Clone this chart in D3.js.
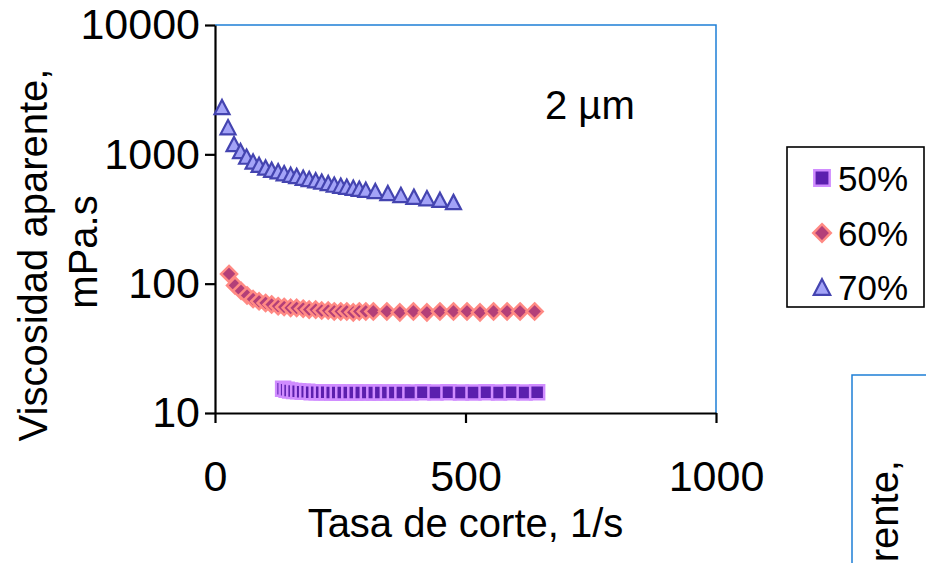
<!DOCTYPE html>
<html>
<head>
<meta charset="utf-8">
<script src="https://cdn.jsdelivr.net/npm/d3@7"></script>
<style>
  html, body { margin: 0; padding: 0; background: #fff; }
  svg { display: block; }
  text { font-family: "Liberation Sans", Arial, sans-serif; fill: #000; }
</style>
</head>
<body>
<svg id="chart" width="926" height="563"></svg>
<script>
// Apparent viscosity vs. shear rate, 2 µm particles, three solids loadings
const seriesNames = ["50%", "60%", "70%"];

const rate50 = [136, 143, 150, 158, 166, 175, 184, 193, 203, 213, 223, 234, 245, 256, 268, 280, 292, 305, 318, 331, 345, 359, 374, 390, 415, 440, 466, 491, 516, 542, 567, 592, 618, 643];
const visc50 = [15.4, 15.1, 14.9, 14.8, 14.7, 14.6, 14.6, 14.5, 14.5, 14.5, 14.5, 14.4, 14.4, 14.4, 14.4, 14.4, 14.4, 14.4, 14.4, 14.4, 14.4, 14.4, 14.4, 14.4, 14.5, 14.4, 14.5, 14.4, 14.4, 14.5, 14.4, 14.5, 14.4, 14.5];

const rate60 = [28, 40, 52, 64, 76, 88, 101, 113, 126, 138, 151, 163, 176, 188, 201, 213, 226, 238, 251, 263, 276, 288, 301, 316, 343, 369, 396, 423, 449, 476, 503, 529, 556, 583, 609, 638];
const visc60 = [119, 97, 88, 81, 76, 73, 71, 69, 67, 66, 65, 65, 64, 63, 63, 62, 62, 61, 61, 61, 60, 61, 61, 61, 61, 60, 61, 60, 61, 61, 61, 60, 61, 61, 61, 61];

const rate70 = [14, 26, 38, 51, 63, 76, 88, 101, 113, 126, 138, 151, 163, 176, 188, 201, 213, 226, 238, 251, 263, 276, 288, 301, 320, 345, 371, 397, 423, 449, 476];
const visc70 = [2320, 1620, 1200, 1060, 960, 880, 830, 790, 760, 740, 715, 695, 680, 660, 645, 630, 615, 600, 583, 572, 562, 552, 542, 532, 520, 502, 485, 470, 458, 445, 428];

const xTicks = [0, 500, 1000];
const yTicks = [10, 100, 1000, 10000];

const svg = d3.select("#chart");
const plot = { left: 215, right: 716, top: 25, bottom: 413 };

const x = d3.scaleLinear().domain([0, 1000]).range([plot.left, plot.right]);
const y = d3.scaleLog().domain([10, 10000]).range([plot.bottom, plot.top]);

// Marker shapes: square, diamond (rotated square) and triangle centred on its box
const squareType = { draw(ctx, size) { const h = Math.sqrt(size) / 2; ctx.moveTo(-h, -h); ctx.lineTo(h, -h); ctx.lineTo(h, h); ctx.lineTo(-h, h); ctx.closePath(); } };
const diamondType = { draw(ctx, size) { const r = Math.sqrt(size) / 2; ctx.moveTo(0, -r); ctx.lineTo(r, 0); ctx.lineTo(0, r); ctx.lineTo(-r, 0); ctx.closePath(); } };
const triangleType = { draw(ctx, size) { const w = Math.sqrt(size) / 2; const hh = w * 0.95; ctx.moveTo(0, -hh); ctx.lineTo(w, hh); ctx.lineTo(-w, hh); ctx.closePath(); } };

const styles = [
  { type: squareType, size: 196, fill: "#5b1fae", stroke: "#d08cff", sw: 2.5 },
  { type: diamondType, size: 256, fill: "#b33f78", stroke: "#ff8a84", sw: 2.5 },
  { type: triangleType, size: 225, fill: "#a3a3f7", stroke: "#4444b0", sw: 2.2 }
];

const series = [
  { name: seriesNames[0], rate: rate50, visc: visc50 },
  { name: seriesNames[1], rate: rate60, visc: visc60 },
  { name: seriesNames[2], rate: rate70, visc: visc70 }
];

// Plot area frame (top and right edges)
svg.append("path")
  .attr("d", `M${plot.left},${plot.top}H${plot.right}V${plot.bottom}`)
  .attr("fill", "none").attr("stroke", "#1e7fd6").attr("stroke-width", 1.5);

// Axes
const xAxis = svg.append("g").attr("transform", `translate(0,${plot.bottom})`)
  .call(d3.axisBottom(x).tickValues(xTicks).tickSize(10).tickSizeOuter(0).tickPadding(37).tickFormat(d3.format("d")));
const yAxis = svg.append("g").attr("transform", `translate(${plot.left},0)`)
  .call(d3.axisLeft(y).tickValues(yTicks).tickSize(10).tickSizeOuter(0).tickPadding(5).tickFormat(d3.format("d")));

[xAxis, yAxis].forEach(g => {
  g.select(".domain").attr("stroke", "#000").attr("stroke-width", 2.2);
  g.selectAll(".tick line").attr("stroke", "#000").attr("stroke-width", 2.2);
  g.selectAll(".tick text").attr("font-size", 43).attr("font-family", "'Liberation Sans', Arial, sans-serif").attr("fill", "#000");
});
xAxis.selectAll(".tick text").attr("dy", "0.71em");

// Data markers
series.forEach((s, i) => {
  const st = styles[i];
  const sym = d3.symbol().type(st.type).size(st.size);
  svg.append("g").selectAll("path")
    .data(s.rate.map((r, j) => ({ r, v: s.visc[j] })))
    .join("path")
    .attr("transform", d => `translate(${x(d.r)},${y(d.v)})`)
    .attr("d", sym)
    .attr("fill", st.fill).attr("stroke", st.stroke).attr("stroke-width", st.sw)
    .attr("stroke-linejoin", "miter");
});

// Axis titles
svg.append("text").attr("x", (plot.left + plot.right) / 2).attr("y", 537)
  .attr("text-anchor", "middle").attr("font-size", 40).text("Tasa de corte, 1/s");
svg.append("text").attr("transform", "translate(47,255) rotate(-90)")
  .attr("text-anchor", "middle").attr("font-size", 40).text("Viscosidad aparente,");
svg.append("text").attr("transform", "translate(97,252) rotate(-90)")
  .attr("text-anchor", "middle").attr("font-size", 40).text("mPa.s");

// Particle size label
svg.append("text").attr("x", 545).attr("y", 119).attr("font-size", 40).text("2 µm");

// Legend
const legend = svg.append("g");
legend.append("rect").attr("x", 787).attr("y", 147).attr("width", 137).attr("height", 160)
  .attr("fill", "#fff").attr("stroke", "#000").attr("stroke-width", 1.6);
const rowY = [178, 233, 287];
series.forEach((s, i) => {
  const st = styles[i];
  legend.append("path")
    .attr("transform", `translate(822,${rowY[i]})`)
    .attr("d", d3.symbol().type(st.type).size(st.size * 1.2))
    .attr("fill", st.fill).attr("stroke", st.stroke).attr("stroke-width", st.sw);
  legend.append("text").attr("x", 838).attr("y", rowY[i]).attr("dy", "0.36em")
    .attr("font-size", 35).text(s.name);
});

// Neighbouring panel edge with the visible end of its axis title
svg.append("path").attr("d", "M926,375H852V563")
  .attr("fill", "none").attr("stroke", "#1e7fd6").attr("stroke-width", 1.5);
svg.append("text").attr("transform", "translate(898,460) rotate(-90)")
  .attr("text-anchor", "end").attr("font-size", 40).text("rente,");
</script>
</body>
</html>
